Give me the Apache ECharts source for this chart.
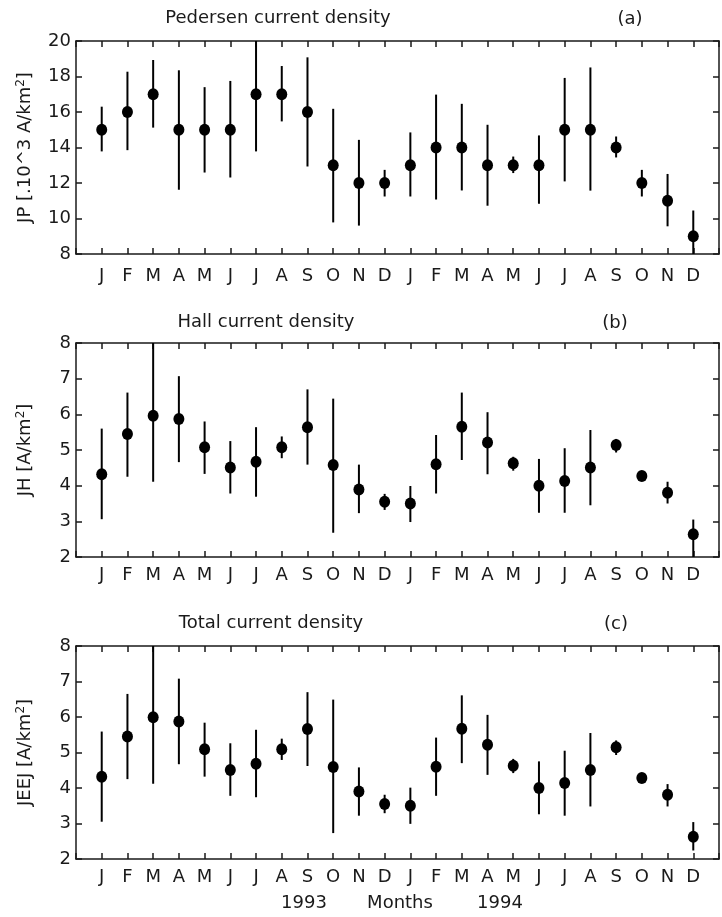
<!DOCTYPE html>
<html>
<head>
<meta charset="utf-8">
<script src="https://cdn.jsdelivr.net/npm/echarts@6/dist/echarts.min.js"></script>
<style>
html,body{margin:0;padding:0;background:#fff;}
#chart{width:722px;height:917px;}
</style>
</head>
<body>
<div id="chart"></div>
<script>
const months = ['J','F','M','A','M','J','J','A','S','O','N','D','J','F','M','A','M','J','J','A','S','O','N','D'];

const jp     = [15,16,17,15,15,15,17,17,16,13,12,12,13,14,14,13,13,13,15,15,14,12,11,9];
const jpHigh = [16.3,18.27,18.93,18.35,17.4,17.75,20,18.59,19.08,16.18,14.43,12.74,14.85,16.98,16.46,15.28,13.49,14.68,17.92,18.51,14.62,12.74,12.51,10.45];
const jpLow  = [13.78,13.85,15.12,11.62,12.59,12.31,13.78,15.47,12.93,9.78,9.6,11.24,11.24,11.07,11.58,10.72,12.56,10.83,12.09,11.57,13.44,11.24,9.56,8];

const jh     = [4.32,5.45,5.96,5.87,5.08,4.51,4.67,5.08,5.64,4.58,3.89,3.55,3.50,4.60,5.65,5.21,4.63,4.00,4.13,4.51,5.14,4.27,3.80,2.64];
const jhHigh = [5.6,6.61,8.0,7.07,5.8,5.25,5.64,5.38,6.7,6.44,4.59,3.77,3.99,5.42,6.61,6.06,4.81,4.75,5.05,5.56,5.31,4.33,4.11,3.05];
const jhLow  = [3.06,4.25,4.11,4.66,4.33,3.78,3.69,4.77,4.59,2.68,3.23,3.32,2.98,3.78,4.72,4.32,4.42,3.24,3.24,3.45,4.93,4.21,3.50,2.0];

const jeej     = [4.32,5.45,5.99,5.87,5.09,4.51,4.68,5.09,5.66,4.59,3.90,3.55,3.50,4.60,5.67,5.22,4.63,4.00,4.14,4.51,5.15,4.28,3.81,2.63];
const jeejHigh = [5.59,6.65,8.0,7.08,5.84,5.26,5.64,5.39,6.70,6.49,4.58,3.81,4.01,5.42,6.61,6.06,4.82,4.75,5.05,5.55,5.34,4.34,4.11,3.04];
const jeejLow  = [3.05,4.25,4.12,4.67,4.32,3.78,3.74,4.79,4.62,2.73,3.22,3.29,2.99,3.78,4.70,4.37,4.42,3.26,3.22,3.48,4.93,4.22,3.48,2.24];

const panelTitles = ['Pedersen current density','Hall current density','Total current density'];
const panelTags = ['(a)','(b)','(c)'];
const yNames = ['JP [.10^3 A/km','JH [A/km','JEEJ [A/km'];
const yMin = [8,2,2], yMax = [20,8,8], yInt = [2,1,1];
const yearLabels = ['1993','Months','1994'];

const FONT = 'DejaVu Sans';
const INK = '#1a1a1a';
const panels = [
  {v: jp, hi: jpHigh, lo: jpLow, top: 41, height: 213, labelMargin: 13},
  {v: jh, hi: jhHigh, lo: jhLow, top: 343, height: 214, labelMargin: 9},
  {v: jeej, hi: jeejHigh, lo: jeejLow, top: 646, height: 213, labelMargin: 9}
];

const grid = [], xAxis = [], yAxis = [], series = [];
const lineStyle = {color: INK, width: 1.5};
panels.forEach((p, k) => {
  grid.push({left: 76, top: p.top, width: 651, height: p.height});
  const xBase = {type: 'value', gridIndex: k, min: 0, max: 25, interval: 1,
    axisLine: {show: true, onZero: false, lineStyle},
    axisTick: {show: true, inside: true, length: 6, lineStyle},
    splitLine: {show: false}};
  xAxis.push(Object.assign({}, xBase, {position: 'bottom',
    axisLabel: {show: true, margin: p.labelMargin, fontFamily: FONT, fontSize: 18, color: INK,
      formatter: v => (Number.isInteger(v) && v >= 1 && v <= 24) ? months[v - 1] : ''}}));
  xAxis.push(Object.assign({}, xBase, {position: 'top', axisLabel: {show: false}}));
  const yBase = {type: 'value', gridIndex: k, min: yMin[k], max: yMax[k], interval: yInt[k],
    axisLine: {show: true, onZero: false, lineStyle},
    axisTick: {show: true, inside: true, length: 6, lineStyle},
    splitLine: {show: false}};
  yAxis.push(Object.assign({}, yBase, {position: 'left',
    axisLabel: {show: true, margin: 5, fontFamily: FONT, fontSize: 18, color: INK},
    name: '{a|' + yNames[k] + '}{s|2}{a|]}', nameLocation: 'middle', nameGap: 40, nameRotate: 90,
    nameTextStyle: {rich: {
      a: {fontFamily: FONT, fontSize: 18, color: INK},
      s: {fontFamily: FONT, fontSize: 12, color: INK, padding: [0, 0, 9, 0]}
    }}}));
  yAxis.push(Object.assign({}, yBase, {position: 'right', axisLabel: {show: false}}));

  const barData = p.v.map((v, i) => [i + 1, p.lo[i], p.hi[i]]);
  series.push({
    type: 'custom', xAxisIndex: 2 * k, yAxisIndex: 2 * k, data: barData,
    renderItem: (params, api) => {
      const a = api.coord([api.value(0), api.value(1)]);
      const b = api.coord([api.value(0), api.value(2)]);
      return {type: 'line', shape: {x1: a[0], y1: a[1], x2: b[0], y2: b[1]},
        style: {stroke: '#000', lineWidth: 2}};
    },
    encode: {x: 0, y: [1, 2]}, silent: true, animation: false, z: 2
  });
  series.push({
    type: 'scatter', xAxisIndex: 2 * k, yAxisIndex: 2 * k,
    data: p.v.map((v, i) => [i + 1, v]),
    symbol: 'circle', symbolSize: [11, 12],
    itemStyle: {color: '#000', opacity: 1}, silent: true, animation: false, z: 3
  });
});

const titleY = [18, 322, 623];
const titleX = [278, 266, 271];
const tagX = [630, 615, 616];
const graphic = [];
for (let k = 0; k < 3; k++) {
  graphic.push({type: 'text', x: titleX[k], y: titleY[k],
    style: {text: panelTitles[k], fontFamily: FONT, fontSize: 18, fill: INK, textAlign: 'center', textVerticalAlign: 'middle'}});
  graphic.push({type: 'text', x: tagX[k], y: titleY[k] + 1,
    style: {text: panelTags[k], fontFamily: FONT, fontSize: 18, fill: INK, textAlign: 'center', textVerticalAlign: 'middle'}});
}
const yearX = [304, 400, 500];
yearLabels.forEach((t, i) => {
  graphic.push({type: 'text', x: yearX[i], y: 903,
    style: {text: t, fontFamily: FONT, fontSize: 18, fill: INK, textAlign: 'center', textVerticalAlign: 'middle'}});
});

const chart = echarts.init(document.getElementById('chart'), null, {renderer: 'canvas'});
chart.setOption({animation: false, backgroundColor: '#fff', grid, xAxis, yAxis, series, graphic});
</script>
</body>
</html>
